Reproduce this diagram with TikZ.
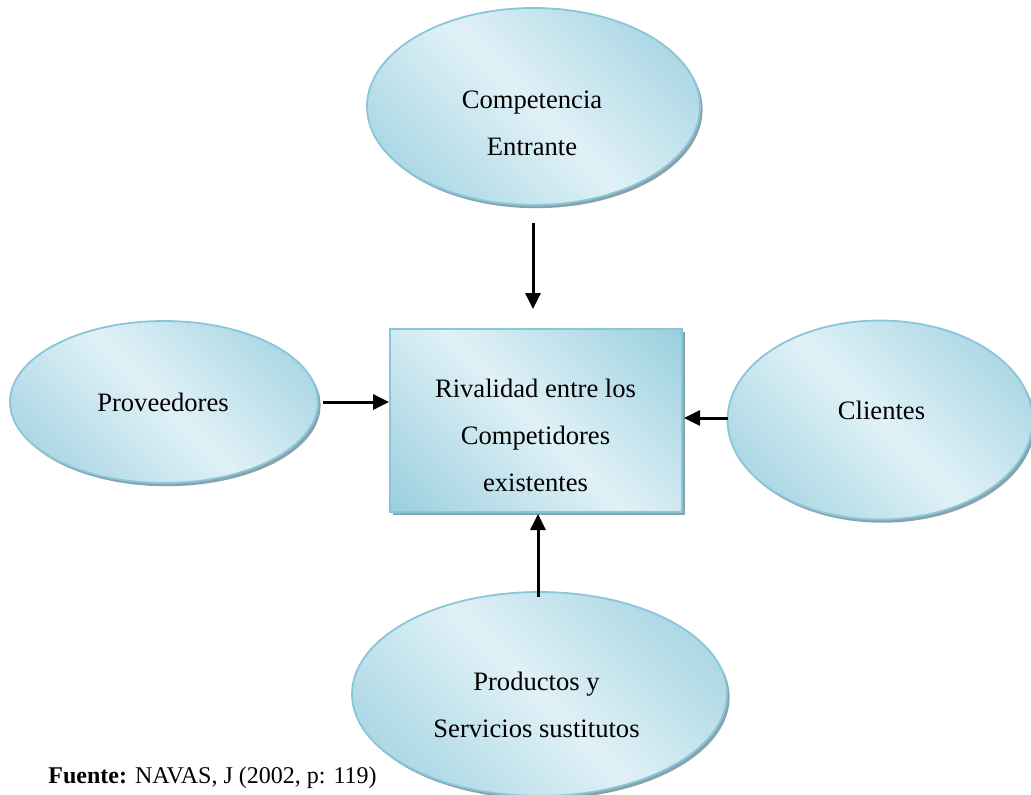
\documentclass[tikz,border=0pt]{standalone}
\usepackage{fontspec}
\setmainfont{Liberation Serif}
\usetikzlibrary{shapes.geometric,shadows,arrows.meta}

\definecolor{fdark}{RGB}{152,206,221}
\definecolor{flight}{RGB}{224,241,247}
\definecolor{edge}{RGB}{136,199,218}
\definecolor{shade}{RGB}{136,163,171}

% light band along the diagonal, darker towards two opposite corners
\pgfdeclarehorizontalshading{mirrorblue}{100bp}{%
  color(0bp)=(fdark); color(14bp)=(fdark); color(50bp)=(flight);
  color(86bp)=(fdark); color(100bp)=(fdark)}

\tikzset{
  bubble/.style={ellipse, inner sep=0pt, shading=mirrorblue, shading angle=45,
    draw=edge, line width=0.9pt,
    drop shadow={shadow xshift=1.3pt, shadow yshift=-1.6pt, opacity=1, fill=shade}},
  centerbox/.style={rectangle, inner sep=0pt, shading=mirrorblue, shading angle=45,
    draw=edge, line width=0.9pt,
    drop shadow={shadow xshift=1.6pt, shadow yshift=-1.6pt, opacity=1, fill=shade}},
  label/.style={align=center, inner sep=0pt, font=\fontsize{13.3pt}{23.5pt}\selectfont},
  force/.style={line width=1.5pt, -{Triangle[length=8pt,width=7.5pt]}}
}

\begin{document}
\begin{tikzpicture}[x=0.5pt, y=-0.5pt]
  \path[use as bounding box] (0,0) rectangle (1031,794);

  % the five forces
  \node[bubble, minimum width=166.5pt, minimum height=98.5pt] (entrante) at (533.5,106.5) {};
  \node[label] (tEntrante) at (532,123) {Competencia\\Entrante};

  \node[bubble, minimum width=154pt, minimum height=81pt] (proveedores) at (164,402) {};
  \node[label] (tProveedores) at (163,402) {Proveedores};

  \node[bubble, minimum width=152.5pt, minimum height=99.5pt] (clientes) at (880,420) {};
  \node[label] (tClientes) at (881.5,410) {Clientes};

  \node[bubble, minimum width=187.5pt, minimum height=102pt] (sustitutos) at (539.5,694) {};
  \node[label] (tSustitutos) at (536.5,705) {Productos y\\Servicios sustitutos};

  \node[centerbox, minimum width=146pt, minimum height=91.5pt] (rivalidad) at (536,420.5) {};
  \node[label] (tRivalidad) at (535.5,435) {Rivalidad entre los\\Competidores\\existentes};

  % arrows into the central box
  \coordinate (aTopS) at (533,223);
  \coordinate (aTopE) at (533,309);
  \draw[force] (aTopS) -- (aTopE);

  \coordinate (aLeftS) at (323,402);
  \draw[force] (aLeftS) -- (rivalidad.west |- aLeftS);

  \coordinate (aRightS) at (728,418);
  \coordinate (aRightE) at (684,418);
  \draw[force] (aRightS) -- (aRightE);

  \coordinate (aBotS) at (538,597);
  \coordinate (aBotE) at (538,514);
  \draw[force] (aBotS) -- (aBotE);

  % source line
  \node[anchor=base west, inner sep=0pt, font=\fontsize{12pt}{14pt}\selectfont] (fuente) at (48,783)
    {\textbf{Fuente:} NAVAS, J (2002, p: 119)};
\end{tikzpicture}
\end{document}
